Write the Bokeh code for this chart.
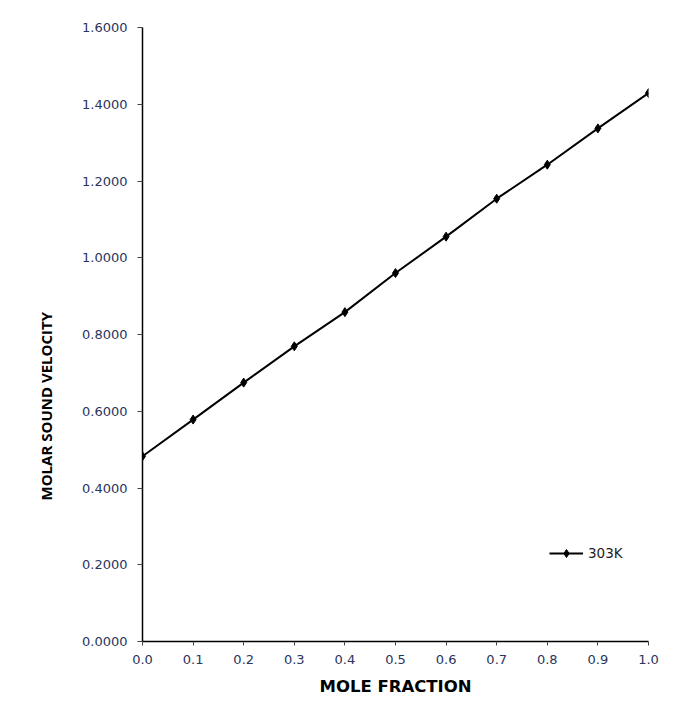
from bokeh.plotting import figure
from bokeh.models import (Range1d, FixedTicker, NumeralTickFormatter, Legend,
                          LegendItem, Title, ColumnDataSource)
from bokeh.embed import file_html
from bokeh.resources import INLINE

mole_fraction = [0.0, 0.1, 0.2, 0.3, 0.4, 0.5, 0.6, 0.7, 0.8, 0.9, 1.0]
velocity_303K = [0.4827, 0.5783, 0.6746, 0.7692, 0.8583, 0.9601, 1.0550,
                 1.1539, 1.2425, 1.3371, 1.4290]
x_ticks = [0.0, 0.1, 0.2, 0.3, 0.4, 0.5, 0.6, 0.7, 0.8, 0.9, 1.0]
y_ticks = [0.0, 0.2, 0.4, 0.6, 0.8, 1.0, 1.2, 1.4, 1.6]
series_name = "303K"
x_title = "MOLE FRACTION"
y_title = "MOLAR SOUND VELOCITY"

p = figure(frame_width=506, frame_height=614, output_backend="svg",
           toolbar_location=None, x_range=Range1d(0, 1), y_range=Range1d(0, 1.6),
           min_border_left=142, min_border_right=38, min_border_top=27,
           min_border_bottom=63)
p.outline_line_color = None
p.grid.visible = False
p.background_fill_color = "white"
p.border_fill_color = "white"

src = ColumnDataSource(dict(x=mole_fraction, y=velocity_303K))
ln = p.line("x", "y", source=src, line_color="black", line_width=2)
mk = p.scatter("x", "y", source=src, marker="diamond", size=9,
               fill_color="black", line_color="black")

tick_color = "#2a3560"
p.xaxis.ticker = FixedTicker(ticks=x_ticks)
p.yaxis.ticker = FixedTicker(ticks=y_ticks)
p.xaxis.formatter = NumeralTickFormatter(format="0.0")
p.yaxis.formatter = NumeralTickFormatter(format="0.0000")
for ax in (p.xaxis, p.yaxis):
    ax.axis_line_color = "black"
    ax.axis_line_width = 1.5
    ax.major_tick_line_color = "#444444"
    ax.major_tick_in = 0
    ax.minor_tick_line_color = None
    ax.major_label_text_font = "DejaVu Sans"
    ax.major_label_text_font_size = "13px"
    ax.major_label_text_color = tick_color
p.yaxis.major_tick_out = 5
p.yaxis.major_label_standoff = 10
p.xaxis.major_tick_out = 4
p.xaxis.major_label_standoff = 9

p.xaxis.axis_label = x_title
p.xaxis.axis_label_text_font = "DejaVu Sans"
p.xaxis.axis_label_text_font_style = "bold"
p.xaxis.axis_label_text_font_size = "16.5px"
p.xaxis.axis_label_text_color = "black"
p.xaxis.axis_label_standoff = 10

ytitle = Title(text=y_title, align="left", offset=141, standoff=48,
               text_font="Open Sans", text_font_style="bold",
               text_font_size="15px", text_color="black")
p.add_layout(ytitle, "left")

legend = Legend(items=[LegendItem(label=series_name, renderers=[ln, mk])],
                location=(407, 78), padding=0, margin=0, glyph_width=34,
                glyph_height=20, label_standoff=5, border_line_color=None,
                background_fill_alpha=0, label_text_font="DejaVu Sans",
                label_text_font_size="13.5px", label_text_color="#222222")
p.add_layout(legend)

open("out.html", "w").write(file_html(p, INLINE))
